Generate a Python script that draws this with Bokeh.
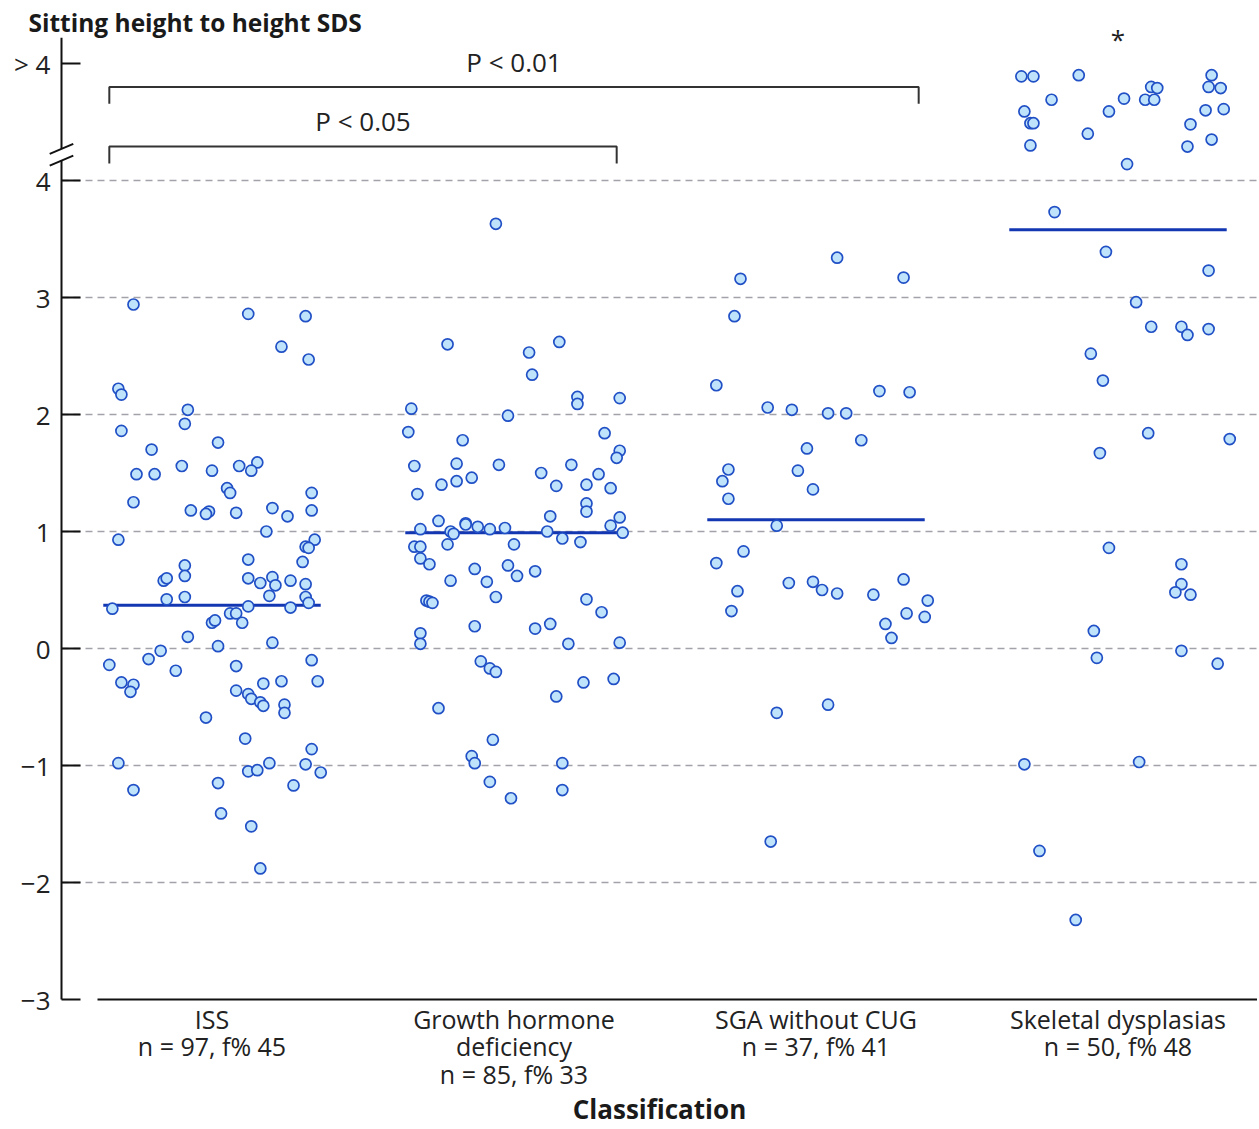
from bokeh.plotting import figure
from bokeh.models import ColumnDataSource, FixedTicker, Label, Range1d, LinearAxis
from bokeh.embed import file_html
from bokeh.resources import INLINE
from bokeh.core.properties import value

# ---------------- data ----------------
categories = ["ISS", "Growth hormone deficiency", "SGA without CUG", "Skeletal dysplasias"]
category_labels = [
    "ISS\nn = 97, f% 45",
    "Growth hormone\ndeficiency\nn = 85, f% 33",
    "SGA without CUG\nn = 37, f% 41",
    "Skeletal dysplasias\nn = 50, f% 48",
]

# horizontal jitter (category units) and sitting height to height SDS
iss_jitter = [-0.26, 0.12, 0.31, 0.23, 0.32, -0.31, -0.30, -0.08, -0.09, -0.30, -0.20, 0.02, -0.10, -0.25,
              -0.19, 0.00, 0.09, 0.15, 0.13, 0.05, 0.06, 0.33, -0.26, -0.07, -0.01, -0.02, 0.08, 0.20, 0.25,
              0.33, 0.18, -0.31, 0.34, 0.31, 0.32, 0.12, 0.30, -0.09, -0.09,
              -0.16, -0.15, 0.12, 0.16, 0.20, 0.21, 0.26, 0.31, -0.15, -0.09, 0.19, 0.31, 0.32, -0.33, 0.12,
              0.26, 0.06, 0.08, 0.00, 0.01, 0.10, -0.08, 0.20, 0.02, -0.17, -0.21, -0.34, -0.12, 0.08, 0.33,
              -0.30, -0.26, -0.27, 0.17, 0.23, 0.35, 0.08, 0.12, 0.13, 0.16, 0.17, 0.24, 0.24, -0.02, 0.11,
              0.33, -0.31, 0.12, 0.15, 0.19, 0.31, 0.36, 0.02, -0.26, 0.27, 0.03, 0.13, 0.16]
iss_sds = [2.94, 2.86, 2.84, 2.58, 2.47, 2.22, 2.17, 2.04, 1.92, 1.86, 1.70, 1.76, 1.56, 1.49,
           1.49, 1.52, 1.56, 1.59, 1.52, 1.37, 1.33, 1.33, 1.25, 1.18, 1.17, 1.15, 1.16, 1.20, 1.13,
           1.18, 1.00, 0.93, 0.93, 0.87, 0.86, 0.76, 0.74, 0.71, 0.62,
           0.58, 0.60, 0.60, 0.56, 0.61, 0.54, 0.58, 0.55, 0.42, 0.44, 0.45, 0.44, 0.39, 0.34, 0.36,
           0.35, 0.30, 0.30, 0.22, 0.24, 0.22, 0.10, 0.05, 0.02, -0.02, -0.09, -0.14, -0.19, -0.15, -0.10,
           -0.29, -0.31, -0.37, -0.30, -0.28, -0.28, -0.36, -0.39, -0.43, -0.46, -0.49, -0.48, -0.55, -0.59, -0.77,
           -0.86, -0.98, -1.05, -1.04, -0.98, -0.99, -1.06, -1.15, -1.21, -1.17, -1.41, -1.52, -1.88]

ghd_jitter = [-0.06, -0.22, 0.05, 0.15, 0.06, 0.21, 0.21, 0.35, -0.34, -0.02, -0.35, 0.30, -0.17, 0.35,
              0.34, -0.33, -0.19, -0.05, -0.14, -0.24, -0.19, 0.09, 0.19, 0.28, 0.14, 0.24, 0.32, -0.32,
              0.24, 0.24, 0.12, 0.35, -0.25, -0.16, -0.16, 0.32, -0.31, -0.21, -0.20, -0.12, -0.08, -0.03,
              0.11, 0.36, 0.16, 0.22, -0.33, -0.31, -0.22, 0.00, -0.31, -0.28, -0.13, -0.02, 0.01, 0.07,
              -0.21, -0.09, -0.06, -0.29, -0.28, -0.27, 0.24, 0.29, -0.13, 0.07, 0.12, -0.31, -0.31, 0.18,
              0.35, -0.11, -0.08, -0.06, 0.23, 0.33, 0.14, -0.25, -0.07, -0.14, -0.13, 0.16, -0.08, 0.16, -0.01]
ghd_sds = [3.63, 2.60, 2.53, 2.62, 2.34, 2.15, 2.09, 2.14, 2.05, 1.99, 1.85, 1.84, 1.78, 1.69,
           1.63, 1.56, 1.58, 1.57, 1.46, 1.40, 1.43, 1.50, 1.57, 1.49, 1.39, 1.40, 1.37, 1.32,
           1.24, 1.17, 1.13, 1.12, 1.09, 1.07, 1.06, 1.05, 1.02, 1.00, 0.98, 1.04, 1.02, 1.03,
           1.00, 0.99, 0.94, 0.91, 0.87, 0.87, 0.89, 0.89, 0.77, 0.72, 0.68, 0.71, 0.62, 0.66,
           0.58, 0.57, 0.44, 0.41, 0.40, 0.39, 0.42, 0.31, 0.19, 0.17, 0.21, 0.13, 0.04, 0.04,
           0.05, -0.11, -0.17, -0.20, -0.29, -0.26, -0.41, -0.51, -0.78, -0.92, -0.98, -0.98, -1.14, -1.21, -1.28]

sga_jitter = [0.07, -0.25, 0.29, -0.27, -0.33, 0.21, 0.31, -0.16, -0.08, 0.04, 0.10, 0.15, -0.03, -0.29,
              -0.31, -0.06, -0.01, -0.29, -0.13, -0.24, -0.33, -0.26, -0.28, -0.09, -0.01, 0.02, 0.07, 0.19,
              0.29, 0.37, 0.30, 0.36, 0.23, 0.25, -0.13, 0.04, -0.15]
sga_sds = [3.34, 3.16, 3.17, 2.84, 2.25, 2.20, 2.19, 2.06, 2.04, 2.01, 2.01, 1.78, 1.71, 1.53,
           1.43, 1.52, 1.36, 1.28, 1.05, 0.83, 0.73, 0.49, 0.32, 0.56, 0.57, 0.50, 0.47, 0.46,
           0.59, 0.41, 0.30, 0.27, 0.21, 0.09, -0.55, -0.48, -1.65]

# values above 4 are shown at their position on the "> 4" segment of the broken axis
skel_jitter = [-0.32, -0.28, -0.13, -0.22, -0.31, -0.29, -0.28, -0.29, -0.10, -0.03, 0.02, 0.11, 0.13, 0.09,
               0.12, 0.03, 0.31, 0.30, 0.34, 0.29, 0.35, 0.24, 0.23, 0.31, -0.21, -0.04, 0.30, 0.06,
               0.11, 0.21, 0.23, 0.30, -0.09, -0.05, 0.10, 0.37, -0.06, -0.03, 0.21, 0.21, 0.19, 0.24,
               -0.08, -0.07, 0.21, 0.33, -0.31, 0.07, -0.26, -0.14]
skel_sds = [4.89, 4.89, 4.90, 4.69, 4.59, 4.49, 4.49, 4.30, 4.40, 4.59, 4.70, 4.80, 4.79, 4.69,
            4.69, 4.14, 4.90, 4.80, 4.79, 4.60, 4.61, 4.48, 4.29, 4.35, 3.73, 3.39, 3.23, 2.96,
            2.75, 2.75, 2.68, 2.73, 2.52, 2.29, 1.84, 1.79, 1.67, 0.86, 0.72, 0.55, 0.48, 0.46,
            0.15, -0.08, -0.02, -0.13, -0.99, -0.97, -1.73, -2.32]

medians = [0.37, 0.99, 1.10, 3.58]

y_tick_values = [-3, -2, -1, 0, 1, 2, 3, 4, 5]
y_tick_labels = ["\u22123", "\u22122", "\u22121", "0", "1", "2", "3", "4", "> 4"]
grid_values = [-2, -1, 0, 1, 2, 3, 4]

comparisons = [(1, 3, "P < 0.01"), (1, 2, "P < 0.05")]
comparison_levels = [4.80, 4.29]
asterisk_groups = [4]

# ---------------- layout constants ----------------
W, H = 1257, 1127
PXX, PXY = 302.0, 117.0
X_START = 1 - 211.5 / PXX
X_END = X_START + W / PXX
Y_END = 648.0 / PXY
Y_START = Y_END - H / PXY
AXIS_X = 1 - 150.5 / PXX
X_AXIS_START = 1 - 114.5 / PXX
HALF_W = 0.36

FONT = "Open Sans"
TXT = "#222222"
FILL = "#bfe3fa"
EDGE = "#2150c6"
MED = "#1336b2"

p = figure(width=W, height=H,
           x_range=Range1d(X_START, X_END), y_range=Range1d(Y_START, Y_END),
           output_backend="svg", toolbar_location=None,
           x_axis_location=None, y_axis_location=None,
           min_border_left=0, min_border_right=0, min_border_top=0, min_border_bottom=0,
           outline_line_color=None, background_fill_color="white", border_fill_color="white")
p.grid.visible = False

# y axis (fixed at the left edge of the data area)
yaxis = LinearAxis(fixed_location=AXIS_X, ticker=FixedTicker(ticks=y_tick_values),
                   major_label_overrides=dict(zip(y_tick_values, y_tick_labels)),
                   axis_line_color=None, major_tick_in=19, major_tick_out=0,
                   major_tick_line_width=2, major_tick_line_color="#111111",
                   minor_tick_line_color=None, major_label_standoff=11,
                   major_label_text_font=FONT, major_label_text_font_size="26px",
                   major_label_text_color=TXT)
p.add_layout(yaxis, "left")

# x axis (fixed at y = -3)
xa = LinearAxis(fixed_location=-3, ticker=FixedTicker(ticks=[1, 2, 3, 4]),
                major_label_overrides={i + 1: lab for i, lab in enumerate(category_labels)},
                bounds=(X_AXIS_START, X_END),
                axis_line_width=2, axis_line_color="#111111",
                major_tick_in=0, major_tick_out=0, minor_tick_line_color=None,
                major_label_standoff=2, major_label_text_font=FONT,
                major_label_text_font_size="25px", major_label_text_line_height=0.82,
                major_label_text_color=TXT)
p.add_layout(xa, "below")

# dashed grid lines
p.segment(x0=[AXIS_X] * len(grid_values), y0=grid_values,
          x1=[X_END] * len(grid_values), y1=grid_values,
          line_color="#a2a2aa", line_width=1.5, line_dash="7 5")

# y axis line with break
brk_hi, brk_lo = 4.27, 4.17
p.segment(x0=[AXIS_X, AXIS_X], y0=[-3, brk_hi], x1=[AXIS_X, AXIS_X], y1=[brk_lo, 5.22],
          line_color="#111111", line_width=2)
p.segment(x0=[AXIS_X - 0.039] * 2, y0=[brk_hi - 0.043, brk_lo - 0.043],
          x1=[AXIS_X + 0.039] * 2, y1=[brk_hi + 0.043, brk_lo + 0.043],
          line_color="#111111", line_width=2)

# medians
p.segment(x0=[i + 1 - HALF_W for i in range(4)], y0=medians,
          x1=[i + 1 + HALF_W for i in range(4)], y1=medians,
          line_color=MED, line_width=3)

# points
groups = [(iss_jitter, iss_sds), (ghd_jitter, ghd_sds), (sga_jitter, sga_sds), (skel_jitter, skel_sds)]
xs, ys = [], []
for gi, (jit, sds) in enumerate(groups):
    for j, s in zip(jit, sds):
        xs.append(gi + 1 + j)
        ys.append(s)
src = ColumnDataSource(dict(x=xs, y=ys))
p.scatter("x", "y", source=src, marker="circle", size=11,
          fill_color=FILL, line_color=EDGE, line_width=1.7)

# significance brackets
bx, by, tx, ty, tt = [], [], [], [], []
for (a, b, txt), lev in zip(comparisons, comparison_levels):
    x0, x1 = a - 0.34, b + 0.34
    bx.append([x0, x0, x1, x1])
    by.append([lev - 0.145, lev, lev, lev - 0.145])
    tx.append((x0 + x1) / 2)
    ty.append(lev + 0.215)
    tt.append(txt)
p.multi_line(xs=bx, ys=by, line_color="#333333", line_width=2)
p.text(x=tx, y=ty, text=tt, text_font=value(FONT), text_font_size=value("26px"),
       text_align="center", text_baseline="middle", text_color=TXT)
p.text(x=[g for g in asterisk_groups], y=[5.21] * len(asterisk_groups), text=["*"] * len(asterisk_groups),
       text_font=value(FONT), text_font_size=value("26px"),
       text_align="center", text_baseline="middle", text_color=TXT)

# y-axis title
p.add_layout(Label(x=1 - 183.5 / PXX, y=5.35, text="Sitting height to height SDS",
                   text_font=FONT, text_font_style="bold", text_font_size="24.5px",
                   text_align="left", text_baseline="middle", text_color="#1a1a1a"))

# x-axis title
p.add_layout(Label(x=1 + 447.5 / PXX, y=(648.0 - 1108.0) / PXY, text="Classification",
                   text_font=FONT, text_font_style="bold", text_font_size="26px",
                   text_align="center", text_baseline="middle", text_color="#1a1a1a"))

open("out.html", "w").write(file_html(p, INLINE))
